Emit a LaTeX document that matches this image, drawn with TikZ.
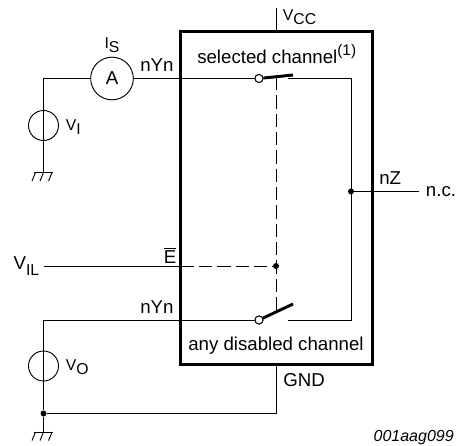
\documentclass[tikz,border=0pt]{standalone}
\usepackage{fontspec}
\setmainfont{Liberation Sans}
\usetikzlibrary{positioning}

\newcommand{\subtxt}[2]{#1\raisebox{-0.28em}{#2}}

\tikzset{
  wire/.style={line width=0.7pt},
  ctrl/.style={line width=0.7pt, dash pattern=on 10pt off 3.75pt},
  arm/.style={line width=2.2pt},
  chip/.style={draw, line width=1.6pt, minimum width=144pt, minimum height=249.75pt, inner sep=0pt},
  meter/.style={draw, circle, line width=0.7pt, minimum size=32pt, inner sep=0pt},
  source/.style={draw, circle, line width=0.7pt, minimum size=22.5pt, inner sep=0pt},
  contact/.style={draw, circle, fill=white, line width=0.7pt, minimum size=6pt, inner sep=0pt},
  dot/.style={fill, circle, minimum size=4.5pt, inner sep=0pt},
  lbl/.style={inner sep=0pt, font=\fontsize{14}{16}\selectfont},
  sublbl/.style={inner sep=0pt, font=\fontsize{11.8}{14}\selectfont}
}

\begin{document}
\begin{tikzpicture}[x=0.75pt, y=-0.75pt]
  \useasboundingbox (0,0) rectangle (459,445);

  % Define nodes
  \node[chip]              (chip)    at (276.5,198) {};
  \node[meter, lbl]        (ammeter) at (112,78.5) {A};
  \node[source]            (srcI)    at (43.5,125.5) {};
  \node[source]            (srcO)    at (43.5,366) {};
  \node[contact]           (swA)     at (259,78.5) {};
  \node[contact]           (swB)     at (259,320) {};
  \node[dot]               (dotZ)    at (351,191.5) {};
  \node[dot]               (dotE)    at (276,266) {};
  \node[dot]               (dotG)    at (43.5,413.5) {};

  \coordinate (cornerI)  at (43.5,78.5);
  \coordinate (gndI)     at (43.5,172.5);
  \coordinate (gndO)     at (43.5,432);
  \coordinate (cornerO)  at (43.5,320);
  \coordinate (vcc)      at (276,8);
  \coordinate (chipT)    at (276,31.5);
  \coordinate (chipB)    at (276,364.5);
  \coordinate (cornerG)  at (276,413.5);
  \coordinate (armAend)  at (293,75);
  \coordinate (armBend)  at (293,304);
  \coordinate (armAmid)  at (276,77);
  \coordinate (armBmid)  at (276,311);
  \coordinate (outA)     at (288,78.5);
  \coordinate (outB)     at (288,320);
  \coordinate (turnA)    at (351,78.5);
  \coordinate (turnB)    at (351,320);
  \coordinate (pinZ)     at (419,191.5);
  \coordinate (pinE)     at (180.5,266);
  \coordinate (vil)      at (43.5,266);

  % Labels
  \node[sublbl, above=2.5pt of ammeter]                (is)   {\subtxt{I}{S}};
  \node[lbl, anchor=base west] (yA)  at (140,72) {nYn};
  \node[lbl, anchor=base west] (sel) at (197,64) {selected channel\raisebox{0.45em}{\fontsize{11.5}{14}\selectfont (1)}};
  \node[sublbl, anchor=base west, right=5pt of vcc, yshift=-7pt] (lvcc) {\subtxt{V}{CC}};
  \node[sublbl, right=5pt of srcI, yshift=-1pt]        (lvi)  {\subtxt{V}{I}};
  \node[lbl, anchor=base west] (nz)  at (379,185) {nZ};
  \node[lbl, right=5pt of pinZ]                        (nc)   {n.c.};
  \node[lbl, left=3pt of pinE, yshift=8pt]             (en)   {$\overline{\mbox{E}}$};
  \node[lbl, left=3pt of vil]                          (lvil) {\subtxt{V}{\fontsize{11.8}{14}\selectfont IL}};
  \node[lbl, anchor=base west] (yB)  at (140,313) {nYn};
  \node[lbl, anchor=base west] (dis) at (188,350) {any disabled channel};
  \node[sublbl, right=5pt of srcO, yshift=-1pt]        (lvo)  {\subtxt{V}{O}};
  \node[lbl, anchor=base west] (gnd) at (283,386) {GND};
  \node[inner sep=0pt, anchor=base east, font=\fontsize{12}{14}\selectfont\itshape] (code) at (454,441) {001aag099};

  % Connect the nodes
  \draw[wire] (vcc) -- (chipT);
  \draw[wire] (cornerI) -- (ammeter);
  \draw[wire] (ammeter) -- (swA);
  \draw[wire] (cornerI) -- (gndI);
  \draw[wire] (swB) -- (cornerO) -- (dotG);
  \draw[wire] (dotG) -- (gndO);
  \draw[wire] (dotG) -- (cornerG) -- (chipB);
  \draw[wire] (outA) -- (turnA) -- (turnB) -- (outB);
  \draw[wire] (dotZ) -- (pinZ);
  \draw[wire] (vil) -- (pinE);
  \draw[ctrl] (pinE) -- (dotE);
  \draw[ctrl] (armAmid) -- (armBmid);
  \draw[arm]  (swA) -- (armAend);
  \draw[arm]  (swB) -- (armBend);
  \node[contact] at (swA) {};
  \node[contact] at (swB) {};

  % Ground symbols
  \foreach \g in {gndI,gndO} {
    \draw[wire] ([xshift=-7.5pt]\g) -- ([xshift=7.2pt]\g);
    \foreach \dx in {-6,0,6.4}
      \draw[wire] ([xshift=\dx pt]\g) -- ([xshift=\dx pt-2.6pt, yshift=-6.4pt]\g);
  }
\end{tikzpicture}
\end{document}
